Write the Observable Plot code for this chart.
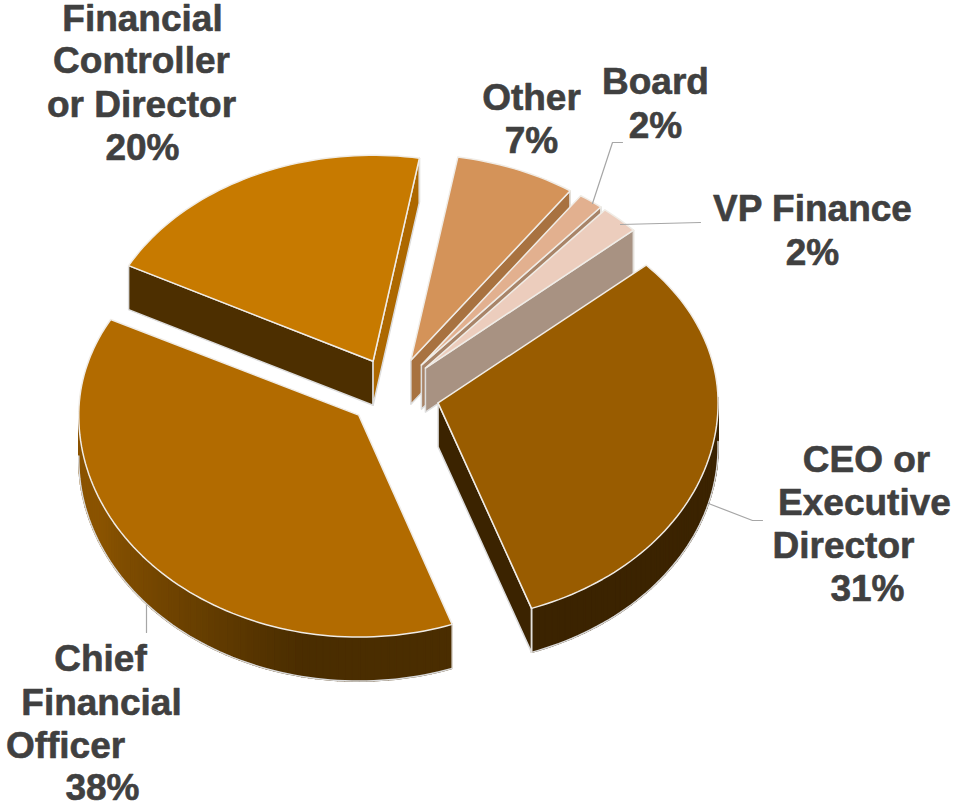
<!DOCTYPE html>
<html>
<head>
<meta charset="utf-8">
<style>html,body{margin:0;padding:0;background:#fff}svg{display:block}</style>
<script src="https://cdn.jsdelivr.net/npm/d3@7"></script>
<script src="https://cdn.jsdelivr.net/npm/@observablehq/plot@0.6"></script>
</head>
<body>
<div id="chart"></div>
<script>
// Data: slice sizes (labels show the rounded figures)
const categories = ["CEO or Executive Director", "Chief Financial Officer", "Financial Controller or Director", "Other", "Board", "VP Finance"];
const shares = [31.25, 38.1, 20, 6.95, 1.44, 2.26];

// Label lines, one list per category
const labelLines = [
  ["CEO or", "Executive", "Director", "31%"],
  ["Chief", "Financial", "Officer", "38%"],
  ["Financial", "Controller", "or Director", "20%"],
  ["Other", "7%"],
  ["Board", "2%"],
  ["VP Finance", "2%"]
];

// Style and layout (separate from the data)
const topColors  = ["#995c00", "#b26b00", "#c77a00", "#d49359", "#e2b08f", "#eccdbd"];
const endFaceColors = ["#3b2300", "#452900", "#ad6800", "#a87240", "#a88468", "#a89282"];
const startFaceColors = ["#3b2300", "#452900", "#4d2f00", "#a87240", "#a88468", "#a89282"];
const wallColors = ["#3b2300", null, "#4d2f00", "#a87240", "#a88468", "#a89282"];
const labelX = [[866, 864, 843, 867], [100, 101, 65, 102], [142, 141, 141, 142], [531, 531], [655, 655], [812, 812]];
const labelY = [[460, 503, 546, 589], [659, 703, 746, 788], [19, 61, 105, 148], [98, 141], [82, 126], [209, 253]];
const leaders = [
  [[708, 503], [752, 520], [762, 520]],
  [[146, 605], [146, 632]],
  [],
  [],
  [[592, 203], [612, 142], [622, 142]],
  [[620, 224], [700, 222]]
];
const paintOrder = [2, 3, 4, 5, 0, 1];
const center = [393, 395], explode = 46, depth = 44;
const sliceRx = [280, 280, 276, 280, 280, 280], ryBack = 206, sliceRyFront = [218, 222, 222, 222, 222, 222], firstAngle = 48;
const cfoWall = d3.scaleLinear([192, 214, 247], ["#4a2d00", "#663e00", "#8a5300"]).clamp(true);

const rad = (a) => a * Math.PI / 180;
const total = d3.sum(shares);
const cum = d3.cumsum(shares);
const polys = [];
let pid = 0;
function addPoly(pts, fill, stroke, open = false) {
  const id = pid++;
  for (const [x, y] of pts) polys.push({id, x, y, fill, stroke, open});
}
const down = ([x, y]) => [x, y + depth];

for (const i of paintOrder) {
  const a0 = firstAngle + (cum[i] - shares[i]) / total * 360;
  const a1 = firstAngle + cum[i] / total * 360;
  const mid = (a0 + a1) / 2;
  const cy = Math.cos(rad(mid));
  const apex = [center[0] + explode * Math.sin(rad(mid)), center[1] - explode * cy * (cy > 0 ? 0.83 : 0.65)];
  const rim = (a) => {
    const c = Math.cos(rad(a));
    return [apex[0] + sliceRx[i] * Math.sin(rad(a)), apex[1] - (c > 0 ? ryBack : sliceRyFront[i]) * c];
  };
  const n = Math.max(4, Math.ceil((a1 - a0) / 1.5));
  const angles = d3.range(n + 1).map((k) => a0 + (a1 - a0) * k / n);
  const arc = angles.map(rim);

  // outer wall: only the front half of the rim shows, segment by segment so its shade can follow the angle
  const front = [];
  for (let k = 0; k < n; k++) {
    const m = (angles[k] + angles[k + 1]) / 2;
    if (Math.cos(rad(m)) > 0.02) continue;
    const c = wallColors[i] ?? d3.color(cfoWall(m)).formatHex();
    addPoly([arc[k], arc[k + 1], down(arc[k + 1]), down(arc[k])], c, c);
    front.push(down(arc[k]), down(arc[k + 1]));
  }
  if (front.length) addPoly(front, "none", "#d9d9d9", true);

  // cut faces: only the ones turned towards the viewer
  const ps = rim(a0), pe = rim(a1);
  if (Math.sin(rad(a0)) < 0) addPoly([apex, ps, down(ps), down(apex)], startFaceColors[i], "#ddd");
  else if (Math.cos(rad(a0)) < 0) addPoly([ps, down(ps)], "none", "#e4e0da", true);
  if (Math.sin(rad(a1)) > 0) {
    addPoly([apex, pe, down(pe), down(apex)], endFaceColors[i], "#ddd");
    addPoly([pe, down(pe)], "none", "#e4e0da", true);
  }

  // top face
  addPoly([apex, ...arc], topColors[i], "#f0ece6");
}

const leaderPts = leaders.flatMap((l, i) => l.map(([x, y]) => ({i, x, y})));
const labels = labelLines.flatMap((lines, i) => lines.map((t, j) => ({t, x: labelX[i][j], y: labelY[i][j]})));

// Draw in sequence: every polygon is its own ordered series
const marks = [];
for (const [, pts] of d3.groups(polys, (d) => d.id)) {
  marks.push(Plot.line(pts, {
    x: "x", y: "y",
    curve: pts[0].open ? "linear" : "linear-closed",
    fill: pts[0].fill, stroke: pts[0].stroke, strokeWidth: 1.5,
    strokeLinejoin: "round"
  }));
}
marks.push(Plot.line(leaderPts, {x: "x", y: "y", z: "i", stroke: "#a6a6a6", strokeWidth: 1.2, curve: "linear"}));
marks.push(Plot.text(labels, {
  x: "x", y: "y", text: "t", fill: "#404040", stroke: "#404040", strokeWidth: 0.6, fontSize: 37, fontWeight: "bold",
  fontFamily: "Liberation Sans", textAnchor: "middle", lineAnchor: "middle"
}));

const chart = Plot.plot({
  width: 957, height: 803, margin: 0,
  x: {domain: [0, 957], axis: null},
  y: {domain: [0, 803], axis: null, reverse: true},
  style: {background: "#fff"},
  marks
});
document.getElementById("chart").append(chart);
</script>
</body>
</html>
